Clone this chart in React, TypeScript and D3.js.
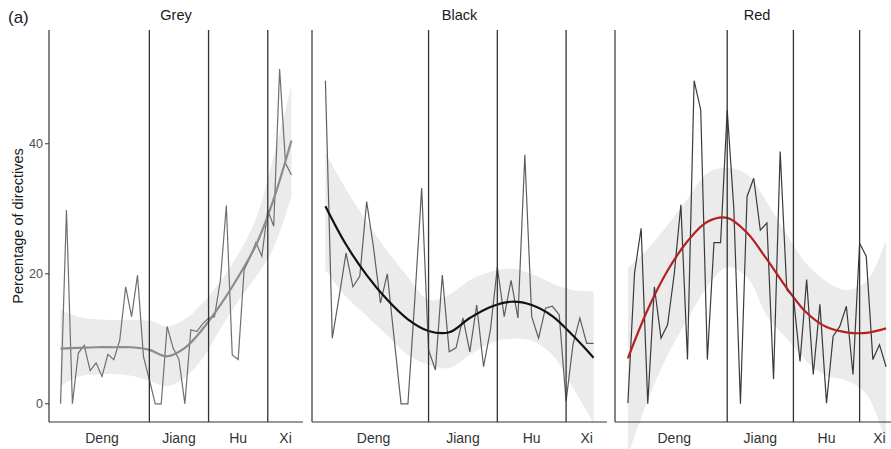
import * as d3 from "d3";

const years = d3.range(1978, 2018);

// yearly share of directives per colour
const greyValues = [0, 29.8, 0, 7.8, 9, 5.1, 6.3, 4.2, 7.6, 6.8, 9.8, 18, 13.4, 19.8, 7.3, 3.7, 0, 0, 11.9, 8.6, 6.8, 0, 11.4, 11.1, 12.3, 13.2, 13.4, 19, 30.5, 7.5, 6.8, 20.6, 22.5, 24.8, 22.7, 29.8, 27.3, 51.5, 37, 35.2];
const blackValues = [49.7, 10.1, 16.5, 23.2, 18, 19.6, 31.1, 24, 15.5, 20, 10, 0, 0, 16, 33.2, 8.3, 5.2, 19.8, 8, 8.6, 13.2, 8, 15.2, 5.7, 11.4, 21, 13.4, 19, 13.2, 38.3, 13.4, 10.1, 14.7, 15, 13.7, 0.4, 9.1, 13.2, 9.3, 9.3];
const redValues = [0.1, 20.1, 27, 0, 18, 10.1, 12.2, 20, 30.6, 6.8, 49.7, 45.2, 6.8, 24.8, 24.8, 45.2, 30, 0, 31.9, 34.7, 26.7, 27.8, 3.8, 38.8, 17.5, 16.5, 6.5, 19.1, 4.5, 15.3, 0.1, 10.4, 11.9, 15, 4.5, 24.7, 22.7, 6.8, 9.1, 5.7];

// smoothed trend with confidence band, read at these years
const fitYears = [1978, 1981, 1984, 1987, 1990, 1993, 1996, 1999, 2002, 2005, 2008, 2011, 2014, 2017];
const greyFit = [8.5, 8.6, 8.7, 8.7, 8.7, 8.3, 7.3, 8.6, 11.5, 15.2, 19.5, 24.4, 31.5, 40.5];
const greyLo = [2.7, 4.2, 4.5, 4.6, 4.3, 3.5, 2.7, 4, 7, 11.5, 15.8, 19.5, 24, 32];
const greyHi = [14.5, 13.4, 13, 12.9, 12.9, 12.8, 11.9, 13, 15.5, 18.8, 23, 28.5, 38, 49];
const blackFit = [30.4, 24.5, 19.8, 16, 13, 11.2, 11, 13.2, 14.9, 15.7, 15.2, 13.5, 10.5, 7.1];
const blackLo = [20.6, 16.5, 13.5, 10.5, 7.5, 6, 5.5, 7.5, 9.3, 10, 9.7, 7.5, 2.5, -3];
const blackHi = [38.6, 33, 28, 23.5, 19.5, 16, 16.8, 19, 20.3, 20.8, 20, 18.5, 17.5, 17.3];
const redFit = [7, 14.5, 20.5, 25, 28, 28.6, 26.3, 22.2, 17.8, 14, 11.8, 11, 10.9, 11.6];
const redLo = [-8, 0.5, 7.5, 13, 18, 21, 19.5, 13.5, 10, 6.5, 4.3, 3.6, 1.5, -6];
const redHi = [20.9, 23.8, 27.5, 31.5, 35.5, 36.3, 35.3, 31, 26, 21.5, 18.8, 17.5, 18.8, 25.2];

const eraBreaks = [1993, 2003, 2013];
const eraNames = ["Deng", "Jiang", "Hu", "Xi"];
const eraLabelYears = [1985, 1998, 2008, 2016];
const yTicks = [0, 20, 40];

const panels = [
  { title: "Grey", left: 49, right: 303, values: greyValues, fit: greyFit, lo: greyLo, hi: greyHi, lineColor: "#6f6f6f", fitColor: "#8c8c8c" },
  { title: "Black", left: 312, right: 607, values: blackValues, fit: blackFit, lo: blackLo, hi: blackHi, lineColor: "#5e5e5e", fitColor: "#111111" },
  { title: "Red", left: 615, right: 899, values: redValues, fit: redFit, lo: redLo, hi: redHi, lineColor: "#3a3a3a", fitColor: "#b22222" },
];

const top = 30;
const bottom = 422;
const font = "'Liberation Sans', Arial, sans-serif";

export default function App() {
  const y = d3.scaleLinear().domain([-2.8, 57.5]).range([bottom, top]);

  return (
    <svg width={891} height={449} style={{ display: "block", position: "absolute", left: 0, top: 0 }} fontFamily={font}>
      <rect width={891} height={449} fill="#fff" />
      <text x={8} y={23} fontSize={17} fill="#1a1a1a">(a)</text>
      <text transform={`translate(23,${(top + bottom) / 2}) rotate(-90)`} textAnchor="middle" fontSize={14.5} fill="#1a1a1a">
        Percentage of directives
      </text>

      {panels.map((p, pi) => {
        const x = d3.scaleLinear().domain([1976.05, 2018.95]).range([p.left, p.right]);
        const band = d3.area<number>()
          .x((_, i) => x(fitYears[i]))
          .y0((_, i) => y(p.lo[i]))
          .y1((_, i) => y(p.hi[i]))
          .curve(d3.curveCatmullRom);
        const fitLine = d3.line<number>()
          .x((_, i) => x(fitYears[i]))
          .y((d) => y(d))
          .curve(d3.curveCatmullRom);
        const dataLine = d3.line<number>()
          .x((_, i) => x(years[i]))
          .y((d) => y(d));
        return (
          <g key={p.title}>
            <text x={(p.left + p.right) / 2} y={20} textAnchor="middle" fontSize={14.5} fill="#1a1a1a">{p.title}</text>
            <path d={band(p.fit) || ""} fill="#ebebeb" />
            <path d={dataLine(p.values) || ""} fill="none" stroke={p.lineColor} strokeWidth={1.2} strokeLinejoin="miter" />
            <path d={fitLine(p.fit) || ""} fill="none" stroke={p.fitColor} strokeWidth={2.2} />
            {eraBreaks.map((b) => (
              <line key={b} x1={x(b)} x2={x(b)} y1={top} y2={bottom} stroke="#333" strokeWidth={1.3} />
            ))}
            <line x1={p.left} x2={p.left} y1={top} y2={bottom} stroke="#333" strokeWidth={1.2} />
            <line x1={p.left} x2={p.right} y1={bottom} y2={bottom} stroke="#333" strokeWidth={1.2} />
            {eraNames.map((n, i) => (
              <text key={n} x={x(eraLabelYears[i])} y={443} textAnchor="middle" fontSize={14} fill="#333">{n}</text>
            ))}
            {pi === 0 && yTicks.map((t) => (
              <g key={t}>
                <line x1={p.left - 4} x2={p.left} y1={y(t)} y2={y(t)} stroke="#333" strokeWidth={1} />
                <text x={p.left - 6} y={y(t) + 4.5} textAnchor="end" fontSize={12.5} fill="#4d4d4d">{t}</text>
              </g>
            ))}
          </g>
        );
      })}
    </svg>
  );
}
